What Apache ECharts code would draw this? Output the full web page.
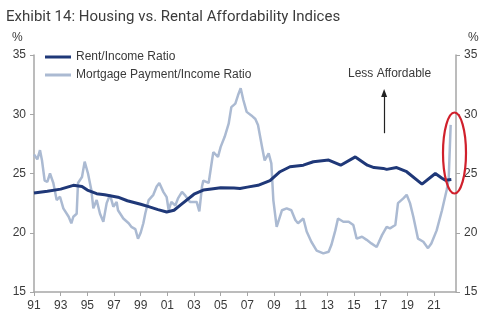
<!DOCTYPE html>
<html><head><meta charset="utf-8">
<script src="https://cdn.jsdelivr.net/npm/echarts@6/dist/echarts.min.js"></script>
<style>html,body{margin:0;padding:0;background:#fff}#c{width:485px;height:329px}</style>
</head><body><div id="c"></div>
<script>
var titleText = 'Exhibit 14: Housing vs. Rental Affordability Indices';
var seriesNames = ['Rent/Income Ratio', 'Mortgage Payment/Income Ratio'];
var yTicks = [15, 20, 25, 30, 35];

var rentYears = [1991.0,1992.0,1993.0,1993.95,1994.6,1995.0,1995.7,1996.3,1997.3,1998.0,1999.0,1999.6,2000.3,2000.95,2001.5,2002.0,2003.0,2003.7,2004.3,2005.0,2006.0,2006.45,2007.0,2007.8,2008.7,2009.45,2010.2,2011.2,2011.95,2013.1,2014.0,2015.1,2016.0,2016.5,2017.2,2017.45,2018.2,2018.95,2020.1,2021.1,2021.6,2021.85,2022.3];
var rentValues = [23.35,23.5,23.68,24.0,23.9,23.6,23.3,23.2,23.0,22.7,22.4,22.2,21.95,21.75,21.9,22.35,23.25,23.6,23.7,23.8,23.77,23.74,23.85,24.0,24.4,25.15,25.57,25.7,25.99,26.13,25.7,26.4,25.7,25.5,25.43,25.35,25.5,25.15,24.1,25.0,24.6,24.44,24.5];

var mortYears = [1991.0,1991.25,1991.45,1991.6,1991.8,1992.0,1992.2,1992.45,1992.7,1992.95,1993.2,1993.6,1993.8,1993.95,1994.2,1994.3,1994.6,1994.8,1995.05,1995.3,1995.45,1995.7,1995.95,1996.2,1996.45,1996.7,1996.95,1997.2,1997.3,1997.7,1998.1,1998.3,1998.6,1998.8,1999.0,1999.2,1999.35,1999.6,1999.95,2000.2,2000.4,2000.7,2000.95,2001.1,2001.3,2001.6,2001.8,2002.1,2002.3,2002.7,2003.2,2003.4,2003.6,2003.7,2004.1,2004.35,2004.45,2004.8,2005.0,2005.3,2005.6,2005.8,2006.1,2006.3,2006.5,2006.7,2006.95,2007.3,2007.6,2007.8,2008.1,2008.3,2008.6,2008.8,2008.95,2009.2,2009.6,2009.95,2010.3,2010.6,2010.8,2011.2,2011.45,2011.8,2012.2,2012.7,2013.1,2013.3,2013.6,2013.8,2014.2,2014.6,2014.95,2015.2,2015.6,2015.95,2016.3,2016.7,2017.1,2017.45,2017.7,2018.1,2018.3,2018.7,2018.95,2019.2,2019.45,2019.8,2020.2,2020.55,2020.8,2021.2,2021.6,2021.95,2022.1,2022.25];
var mortValues = [26.6,26.2,26.97,26.1,24.4,24.3,25.0,24.2,22.76,23.04,22.06,21.35,20.8,21.35,21.6,24.2,24.7,26.0,25.0,23.6,22.06,22.76,21.6,20.93,22.5,23.2,22.2,22.6,21.9,21.2,20.8,20.5,20.3,19.5,20.0,20.8,21.65,22.76,23.2,23.9,24.2,23.45,23.0,21.9,22.6,22.3,22.9,23.45,23.2,22.6,22.6,21.8,23.9,24.4,24.2,26.1,26.8,26.4,27.25,28.1,29.2,30.6,30.9,31.6,32.2,31.2,30.2,29.9,29.6,29.1,27.25,26.1,26.7,25.85,22.76,20.5,21.9,22.06,21.9,21.07,20.8,21.2,20.1,19.24,18.5,18.26,18.4,18.96,20.2,21.2,20.93,20.93,20.65,19.5,19.66,19.4,19.1,18.8,19.8,20.5,20.37,20.65,22.5,22.9,23.2,22.5,21.35,19.5,19.24,18.7,19.1,20.2,21.9,23.6,24.5,29.1];

function pairs(xs, ys){ return xs.map(function(x,i){ return [x, ys[i]]; }); }

var rentColor = '#1f3878';
var mortColor = '#abbad2';
var axisColor = '#a6a6a6';
var txt = '#3a3a3a';
var FONT = 'Liberation Sans, Arial, sans-serif';

var yAxisCommon = {
  type: 'value', min: 15, max: 35, interval: 5,
  axisLine: {show: true, lineStyle: {color: axisColor, width: 1.5}},
  axisTick: {show: true, length: 4, lineStyle: {color: axisColor}},
  splitLine: {show: false},
  axisLabel: {color: txt, fontSize: 12, fontFamily: FONT, margin: 8}
};

var chart = echarts.init(document.getElementById('c'));
chart.setOption({
  animation: false,
  title: {text: titleText, left: 1, top: 5, textStyle: {fontFamily: 'Roboto, sans-serif', fontWeight: 'normal', fontSize: 15, color: '#3c3c3c'}},
  legend: {
    orient: 'vertical', left: 40, top: 46, itemGap: 6,
    icon: 'rect', itemWidth: 26, itemHeight: 3,
    data: seriesNames,
    textStyle: {color: txt, fontSize: 12, fontFamily: FONT}
  },
  grid: {left: 34, right: 29, top: 55, bottom: 37},
  xAxis: {
    type: 'value', min: 1991, max: 2022.65, interval: 2,
    axisLine: {show: true, onZero: false, lineStyle: {color: axisColor, width: 1.5}},
    axisTick: {show: true, length: 4, lineStyle: {color: axisColor}},
    splitLine: {show: false},
    axisLabel: {color: txt, fontSize: 12, fontFamily: FONT, margin: 8, showMaxLabel: false,
      formatter: function(v){ if (Math.abs(v - Math.round(v)) > 1e-6) return ''; var s = String(Math.round(v) % 100); return s.length < 2 ? '0' + s : s; }}
  },
  yAxis: [
    Object.assign({position: 'left'}, yAxisCommon),
    Object.assign({position: 'right'}, yAxisCommon)
  ],
  graphic: [
    {type: 'text', left: 12, top: 32, style: {text: '%', fill: txt, font: '12px ' + FONT}},
    {type: 'text', left: 468, top: 32, style: {text: '%', fill: txt, font: '12px ' + FONT}},
    {type: 'text', left: 348, top: 68, style: {text: 'Less Affordable', fill: txt, font: '12px ' + FONT}},
    {type: 'ellipse', shape: {cx: 454.5, cy: 153, rx: 11.5, ry: 40.5}, style: {fill: 'none', stroke: '#d0202c', lineWidth: 2.2}, z: 100}
  ],
  series: [
    {name: seriesNames[1], type: 'line', data: pairs(mortYears, mortValues), showSymbol: false, symbol: 'none',
     lineStyle: {color: mortColor, width: 2.5}, itemStyle: {color: mortColor}, z: 2,
     markLine: {silent: true, symbol: ['none', 'triangle'], symbolSize: [6, 8], label: {show: false},
       lineStyle: {color: '#222', width: 1.2, type: 'solid'},
       data: [[{coord: [2017.26, 28.4]}, {coord: [2017.26, 31.8]}]]}},
    {name: seriesNames[0], type: 'line', data: pairs(rentYears, rentValues), showSymbol: false, symbol: 'none',
     lineStyle: {color: rentColor, width: 3}, itemStyle: {color: rentColor}, z: 3}
  ]
});
</script></body></html>
